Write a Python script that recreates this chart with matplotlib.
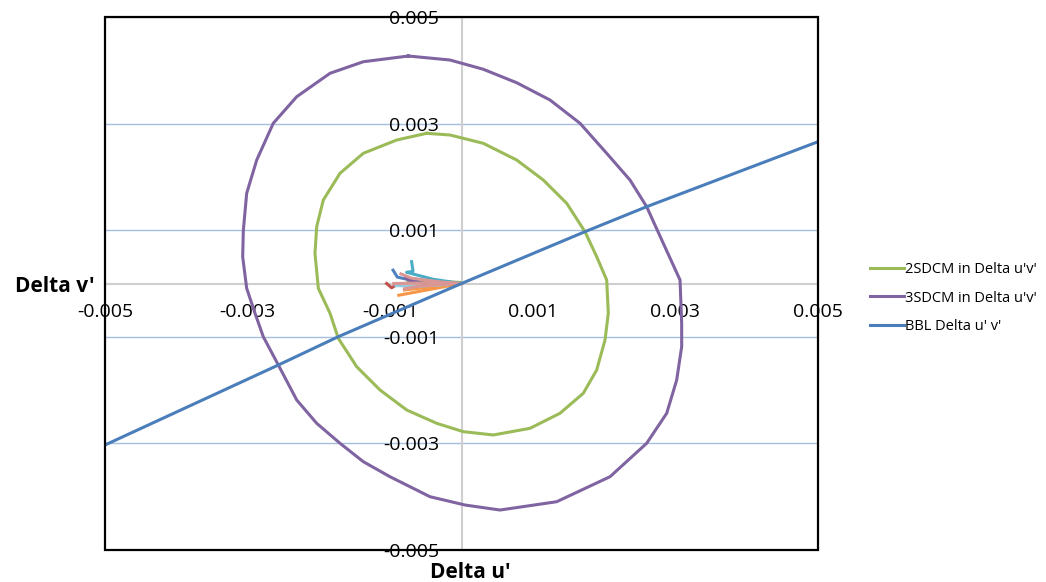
import matplotlib
matplotlib.use("Agg")
from matplotlib import pyplot as plt
from matplotlib.patches import Rectangle

# 2SDCM ellipse
sdcm2_u = [-0.000488, -0.000909, -0.001377, -0.001704, -0.001938, -0.002031, -0.002055,
           -0.002008, -0.001844, -0.001728, -0.00147, -0.001143, -0.000769, -0.000348,
           0.000025, 0.000446, 0.000961, 0.001381, 0.001708, 0.001896, 0.002013, 0.002059,
           0.002036, 0.001896, 0.001732, 0.001475, 0.001147, 0.000774, 0.000306, -0.000161,
           -0.000488]
sdcm2_v = [0.002818, 0.002692, 0.002443, 0.002068, 0.001567, 0.001066, 0.000567,
           -0.00009, -0.000559, -0.001028, -0.001561, -0.001998, -0.002373, -0.002623,
           -0.00278, -0.002842, -0.002717, -0.002435, -0.00206, -0.001623, -0.00106, -0.000559,
           0.000066, 0.000503, 0.000972, 0.001505, 0.001942, 0.002317, 0.00263, 0.002786,
           0.002818]

# 3SDCM ellipse
sdcm3_u = [-0.000746, -0.001377, -0.001844, -0.002311, -0.00264, -0.002872, -0.003013,
           -0.00306, -0.003069, -0.003013, -0.002896, -0.00278, -0.002569, -0.002311,
           -0.002031, -0.001704, -0.001377, -0.001003, -0.000442, 0.000049, 0.00054,
           0.001335, 0.002083, 0.002597, 0.002878, 0.003018, 0.003088, 0.003088, 0.003065,
           0.00283, 0.002597, 0.002363, 0.002036, 0.001662, 0.001241, 0.000774, 0.000306,
           -0.000161, -0.000746]
sdcm3_v = [0.004268, 0.004161, 0.003944, 0.003505, 0.003006, 0.002317, 0.001692,
           0.000991, 0.000503, -0.00009, -0.000559, -0.000998, -0.001529, -0.002186,
           -0.002623, -0.002998, -0.003343, -0.003625, -0.004, -0.004156, -0.00425,
           -0.004094, -0.003625, -0.002998, -0.002435, -0.001811, -0.001186, -0.000747, 0.000066,
           0.000754, 0.001441, 0.001942, 0.002443, 0.003006, 0.003443, 0.003767, 0.004019,
           0.004193, 0.004268]

# BBL
bbl_u = [-0.005, -0.00257, -0.001728, 0.0, 0.001732, 0.002597, 0.005]
bbl_v = [-0.00303, -0.00153, -0.000998, 0.0, 0.000972, 0.001441, 0.00266]

# sample points near the centre (no legend entries)
samples = [
    ("#C0504D", [-0.00105, -0.00098, -0.0009], [0.0, -0.00008, -0.00002]),
    ("#F79646", [-0.00088, -0.0006, -0.0002, 0.0], [-0.00022, -0.00015, -0.00005, 0.0]),
    ("#F79646", [-0.0008, -0.0004, -0.00003], [-0.00012, -0.00006, -0.00001]),
    ("#93CDDD", [-0.00092, -0.0006, -0.0002], [-0.00004, -0.00005, -0.00002]),
    ("#9BBB59", [-0.00075, -0.00045, -0.00002], [0.00002, 0.00005, 0.00002]),
    ("#4F81BD", [-0.00096, -0.0009, -0.0006], [0.00025, 0.00012, 0.00003]),
    ("#8064A2", [-0.00078, -0.00072, -0.0005], [0.0001, 0.00005, 0.0]),
    ("#4BACC6", [-0.0007, -0.00068, -0.00077, -0.0004, 0.0], [0.00041, 0.00023, 0.00021, 0.00008, 0.0]),
    ("#D99694", [-0.00095, -0.0005, -0.0001], [0.0, 0.00001, 0.00001]),
    ("#D99694", [-0.00085, -0.0007, -0.0003, 0.0], [0.00018, 0.0001, 0.00003, 0.0]),
    ("#D99694", [-0.0008, -0.0006, -0.00005], [-0.0001, -0.00005, 0.0]),
]

ticks = [-0.005, -0.003, -0.001, 0.001, 0.003, 0.005]
tick_labels = ["-0.005", "-0.003", "-0.001", "0.001", "0.003", "0.005"]

plt.rcParams['font.family'] = ['Open Sans', 'DejaVu Sans']

fig = plt.figure(figsize=(10.46, 5.82), dpi=100)
ax = fig.add_axes([105/1046, 1 - 550/582, 713/1046, 533/582])

for color, us, vs in samples:
    ax.plot(us, vs, color=color, lw=2.2, zorder=3)

l1, = ax.plot(sdcm2_u, sdcm2_v, color="#9BBB59", lw=2.2, zorder=4, label="2SDCM in Delta u'v'")
l2, = ax.plot(sdcm3_u, sdcm3_v, color="#8064A2", lw=2.2, zorder=4, label="3SDCM in Delta u'v'")
l3, = ax.plot(bbl_u, bbl_v, color="#4A7EBB", lw=2.2, zorder=5, label="BBL Delta u' v'")

ax.set_xlim(-0.005, 0.005)
ax.set_ylim(-0.005, 0.005)
ax.set_xticks(ticks)
ax.set_xticklabels(tick_labels)
ax.set_yticks(ticks)
ax.set_yticklabels(tick_labels)
ax.yaxis.grid(True, color="#A7BFDE", lw=1)
ax.set_axisbelow(True)

ax.spines['left'].set_position(('data', 0))
ax.spines['bottom'].set_position(('data', 0))
for s in ('left', 'bottom'):
    ax.spines[s].set_color("#CFCFCF")
    ax.spines[s].set_linewidth(1.5)
    ax.spines[s].set_zorder(1)
ax.spines['top'].set_visible(False)
ax.spines['right'].set_visible(False)
ax.add_patch(Rectangle((0, 0), 1, 1, transform=ax.transAxes, fill=False,
                       edgecolor="black", lw=1.6, clip_on=False, zorder=6))

ax.tick_params(axis='x', length=0, pad=14, labelsize=14)
ax.tick_params(axis='y', length=0, pad=16, labelsize=14)

fig.text(15/1046, 1 - 286/582, "Delta v'", fontsize=15, fontweight='bold', ha='left', va='center')
fig.text(470/1046, 1 - 572/582, "Delta u'", fontsize=15, fontweight='bold', ha='center', va='center')

fig.legend(handles=[l1, l2, l3], loc='center left', bbox_to_anchor=(870/1046, 1 - 298/582),
           frameon=False, fontsize=10.5, handlelength=2.3, handletextpad=0.1,
           labelspacing=0.9, borderpad=0, borderaxespad=0)

fig.savefig("out.png", dpi=100)
